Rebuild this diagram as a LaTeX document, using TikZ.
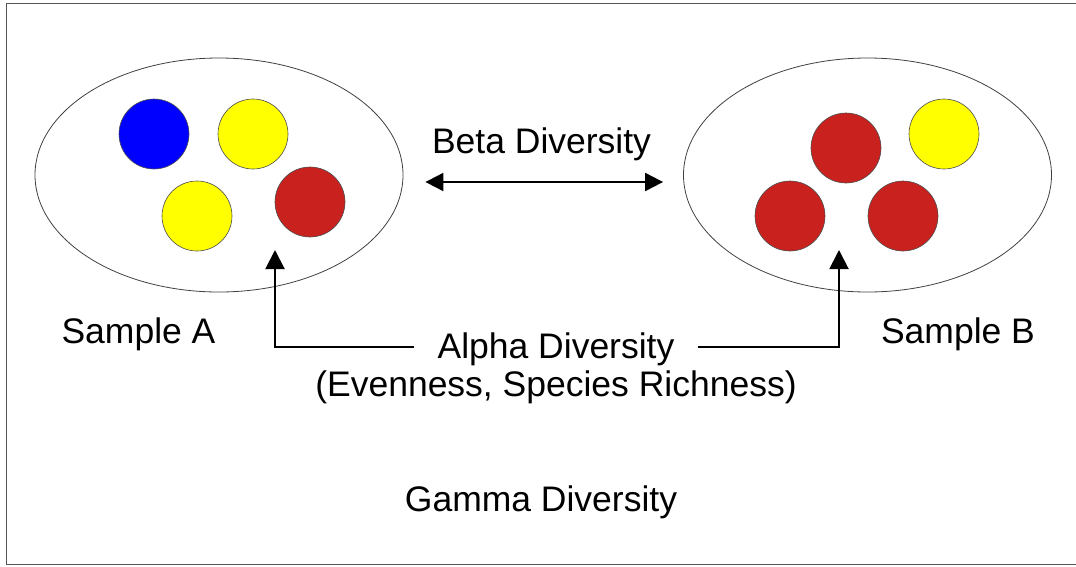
\documentclass[tikz,border=0pt]{standalone}
\usepackage{fontspec}
\setmainfont{Liberation Sans}
\usetikzlibrary{arrows.meta,positioning,shapes.geometric}
\definecolor{speciesblue}{HTML}{0000FF}
\definecolor{speciesyellow}{HTML}{FFFF00}
\definecolor{speciesred}{HTML}{C9211E}
\definecolor{framegray}{HTML}{555555}
\tikzset{
  sample/.style={ellipse, draw=black!75, line width=0.8pt, minimum width=368pt, minimum height=234pt, inner sep=0pt},
  species/.style={circle, draw=black!70, line width=0.6pt, minimum size=70pt, inner sep=0pt},
  bigtext/.style={font=\fontsize{35.5}{42}\selectfont, inner sep=0pt, anchor=base},
  divarrow/.style={line width=2pt, -{Triangle[length=19pt,width=19pt]}}
}

\begin{document}
\begin{tikzpicture}[x=1pt,y=-1pt]
  \useasboundingbox (0,0) rectangle (1076,566);
  % outer frame
  \draw[framegray, line width=1.8pt] (1076,3.5) -- (6.5,3.5) -- (6.5,564.5) -- (1076,564.5);
  % sample outlines
  \node[sample] (ellA) at (219,175) {};
  \node[sample] (ellB) at (867.5,175) {};
  % species in sample A
  \node[species, fill=speciesblue] (spA1) at (154,134) {};
  \node[species, fill=speciesyellow] (spA2) at (253,134) {};
  \node[species, fill=speciesyellow] (spA3) at (197,216) {};
  \node[species, fill=speciesred] (spA4) at (310,202) {};
  % species in sample B
  \node[species, fill=speciesred] (spB1) at (846,148) {};
  \node[species, fill=speciesyellow] (spB2) at (944,134) {};
  \node[species, fill=speciesred] (spB3) at (790,216) {};
  \node[species, fill=speciesred] (spB4) at (903,216) {};
  % labels
  \node[bigtext] (sampA) at (138.5,343) {Sample A};
  \node[bigtext] (sampB) at (958,343) {Sample B};
  \node[bigtext] (beta) at (541.5,153.5) {Beta Diversity};
  \node[bigtext, inner xsep=23pt] (alpha) at (556,358) {Alpha Diversity};
  \node[bigtext] (alphanote) at (556,396) {(Evenness, Species Richness)};
  \node[bigtext] (gamma) at (541,511) {Gamma Diversity};
  % beta arrow
  \draw[divarrow, {Triangle[length=18pt,width=18pt]}-{Triangle[length=18pt,width=18pt]}, shorten <=22pt, shorten >=20pt]
      ([yshift=-7pt]ellA.east) -- ([yshift=-7pt]ellB.west);
  % alpha arrows
  \coordinate (tipA) at (275,250);
  \coordinate (tipB) at (839,250);
  \draw[divarrow] ([yshift=2pt]alpha.west) -| (tipA);
  \draw[divarrow] ([yshift=2pt]alpha.east) -| (tipB);
\end{tikzpicture}
\end{document}
